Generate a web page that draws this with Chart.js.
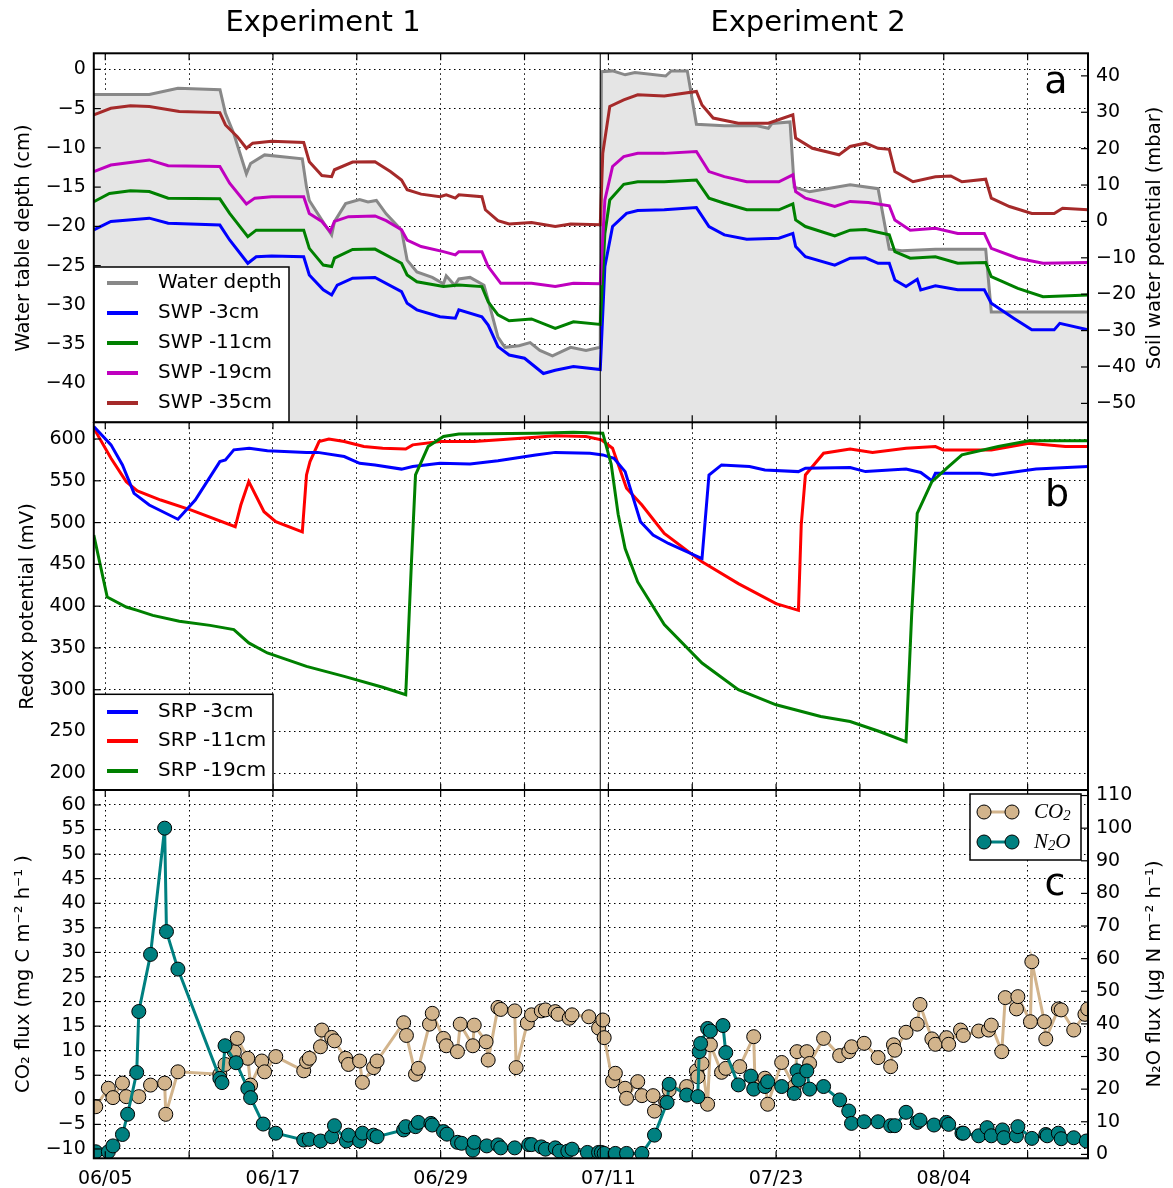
<!DOCTYPE html>
<html>
<head>
<meta charset="utf-8">
<title>Water table, redox and gas fluxes</title>
<script src="https://cdn.jsdelivr.net/npm/chart.js@4.4.0/dist/chart.umd.min.js"></script>
<style>
  html, body { margin: 0; padding: 0; background: #fff; }
  #wrap { position: relative; width: 1173px; height: 1188px; overflow: hidden; }
  #wrap canvas { position: absolute; left: 0; }
</style>
</head>
<body>
<div id="wrap">
  <canvas id="panelA" width="1173" height="423" style="top:0px"></canvas>
  <canvas id="panelB" width="1173" height="369" style="top:422px"></canvas>
  <canvas id="panelC" width="1173" height="418" style="top:770px"></canvas>
</div>
<script>
// x values are days since 06/05

// --- panel a: water table depth (cm, left axis) ---
const waterDays = [-0.82, 3.15, 5.2, 8.21, 8.6, 9.2, 10.1, 10.4, 11.4, 14.1, 14.4, 14.6, 15.5, 16.2, 16.4, 17.2, 18.2, 18.8, 19.4, 20.1, 21.2, 21.6, 22.3, 23.4, 24.2, 24.4, 25.0, 25.3, 26.1, 27.1, 27.4, 28.1, 28.6, 29.6, 30.4, 31.1, 32.0, 33.3, 34.4, 35.42, 35.5, 36.3, 37.2, 37.9, 40.1, 40.5, 41.65, 42.3, 44.3, 46.65, 47.45, 47.7, 49.0, 49.3, 50.4, 53.3, 55.3, 56.1, 57.0, 59.4, 63.0, 63.4, 70.32];
const waterDepth = [-3.2, -3.2, -2.4, -2.6, -5.6, -8.2, -13.3, -12.0, -10.9, -11.4, -15.0, -16.7, -19.2, -21.1, -19.4, -17.1, -16.6, -16.9, -16.7, -18.4, -20.5, -24.3, -25.8, -26.5, -27.3, -26.3, -27.5, -26.7, -26.5, -27.5, -29.4, -34.1, -35.4, -35.2, -34.8, -35.8, -36.5, -35.4, -35.8, -35.4, -0.3, -0.2, -0.7, -0.4, -0.85, -0.2, -0.2, -7.0, -7.2, -7.2, -7.5, -6.9, -6.7, -15.0, -15.6, -14.7, -15.2, -22.9, -23.1, -22.9, -22.9, -30.9, -30.9];

// --- panel a: soil water potential (mbar, right axis) ---
const swp3Days = [-0.82, 0.4, 3.15, 4.5, 8.2, 8.9, 10.2, 10.8, 11.9, 14.2, 14.6, 15.6, 16.2, 16.6, 17.7, 19.3, 21.2, 21.6, 22.3, 23.95, 25.05, 25.3, 26.95, 27.4, 28.1, 28.9, 30.0, 31.35, 32.2, 33.5, 35.42, 35.75, 36.3, 37.3, 38.1, 40.0, 42.3, 43.2, 44.3, 45.9, 48.2, 49.2, 49.4, 50.1, 52.2, 53.3, 54.4, 55.3, 56.1, 56.5, 57.3, 58.1, 58.35, 59.4, 61.0, 62.9, 63.4, 65.0, 66.3, 67.9, 68.3, 70.32];
const swp3 = [-2.3, 0.0, 0.9, -0.5, -1.0, -5.1, -11.5, -9.7, -9.5, -9.7, -14.7, -18.8, -20.2, -17.5, -15.6, -15.4, -19.3, -22.5, -24.3, -26.2, -26.6, -24.3, -26.2, -28.5, -34.4, -36.7, -37.6, -41.8, -40.9, -39.9, -40.7, -12.4, -1.4, 2.2, 3.0, 3.2, 3.8, -1.4, -3.7, -4.9, -4.6, -3.3, -6.9, -9.7, -12.0, -10.1, -10.0, -11.5, -11.5, -16.1, -17.9, -15.9, -18.8, -17.7, -18.8, -18.8, -22.5, -26.6, -29.8, -29.8, -28.0, -29.8];

const swp11Days = [-0.82, 0.3, 1.8, 3.15, 4.5, 8.2, 8.9, 10.2, 10.8, 11.9, 14.2, 14.6, 15.6, 16.2, 16.4, 17.7, 19.3, 21.2, 21.6, 22.3, 24.2, 25.3, 26.95, 27.4, 28.1, 28.9, 30.5, 32.2, 33.5, 35.42, 35.75, 36.1, 37.1, 38.1, 40.0, 42.3, 43.2, 44.3, 45.9, 48.2, 49.2, 49.4, 50.1, 52.2, 53.3, 54.4, 56.1, 56.5, 57.6, 59.4, 61.0, 63.0, 63.4, 65.3, 67.1, 70.32];
const swp11 = [5.4, 7.7, 8.4, 8.2, 6.4, 6.2, 2.2, -4.2, -2.4, -2.4, -2.4, -7.4, -12.0, -12.4, -10.1, -7.7, -7.6, -11.5, -14.7, -16.6, -17.9, -17.5, -17.9, -22.1, -25.7, -27.3, -26.8, -29.4, -27.6, -28.3, -3.3, 5.9, 10.2, 10.9, 10.9, 11.4, 6.4, 5.0, 3.2, 3.2, 4.8, 0.4, -1.4, -4.0, -2.4, -2.2, -3.7, -8.3, -10.1, -9.7, -11.5, -11.3, -15.2, -18.4, -20.7, -20.2];

const swp19Days = [-0.82, 0.4, 3.15, 4.5, 8.2, 8.9, 10.1, 10.7, 11.9, 14.2, 14.6, 15.5, 16.1, 16.4, 17.4, 19.3, 20.1, 21.2, 21.6, 22.6, 24.2, 25.05, 25.3, 26.95, 27.4, 28.3, 30.5, 32.2, 33.5, 35.42, 35.75, 36.3, 37.1, 38.1, 40.0, 42.3, 43.2, 44.3, 45.9, 48.2, 49.2, 49.4, 50.1, 52.2, 53.3, 54.6, 56.1, 56.5, 57.6, 59.4, 61.0, 62.9, 63.4, 65.3, 67.1, 70.32];
const swp19 = [13.7, 15.5, 16.9, 15.3, 15.1, 10.5, 4.8, 6.4, 6.8, 6.8, 2.2, 0.0, -2.8, 0.0, 1.3, 1.5, 0.2, -2.3, -5.1, -6.9, -8.3, -9.2, -8.3, -8.3, -12.4, -17.0, -17.0, -17.9, -17.0, -17.1, 5.9, 15.1, 17.8, 18.7, 18.7, 19.2, 13.7, 12.3, 10.9, 10.9, 12.8, 8.2, 6.4, 4.1, 5.5, 5.2, 4.3, 0.4, -2.4, -1.9, -3.3, -3.3, -7.4, -10.1, -11.5, -11.3];

const swp35Days = [-0.82, 0.4, 1.8, 3.15, 5.3, 8.2, 8.6, 9.45, 10.1, 10.55, 11.9, 14.2, 14.6, 15.5, 16.2, 16.4, 17.7, 19.3, 20.4, 21.2, 21.6, 22.6, 23.95, 24.4, 25.05, 25.3, 26.95, 27.2, 28.1, 28.9, 30.5, 32.2, 33.3, 35.42, 35.6, 36.1, 37.1, 38.1, 40.0, 42.3, 42.7, 43.5, 45.3, 47.45, 49.2, 49.4, 50.6, 52.5, 53.3, 54.4, 55.3, 56.1, 56.5, 57.8, 59.4, 60.5, 61.3, 63.0, 63.4, 64.7, 66.3, 67.9, 68.5, 70.32];
const swp35 = [29.3, 31.1, 31.8, 31.6, 30.2, 29.9, 26.5, 23.3, 20.1, 21.5, 22.0, 21.7, 16.4, 12.6, 12.3, 14.2, 16.3, 16.4, 13.7, 11.4, 8.7, 7.5, 6.8, 7.3, 6.4, 7.3, 6.8, 3.2, 0.2, -0.7, -0.3, -1.4, -0.7, -0.9, 18.7, 31.6, 33.4, 34.8, 34.5, 35.7, 32.0, 28.4, 27.0, 27.0, 29.3, 22.9, 20.1, 18.3, 20.6, 21.5, 20.1, 19.8, 13.7, 10.9, 12.3, 12.5, 10.9, 11.6, 6.4, 4.1, 2.2, 2.2, 3.6, 3.2];

// --- panel b: soil redox potential (mV) ---
const srp3Days = [-0.82, 0.41, 1.23, 2.06, 3.15, 5.2, 6.44, 8.2, 8.6, 9.2, 10.3, 11.6, 14.4, 15.2, 17.1, 18.2, 19.3, 21.2, 22.0, 23.95, 26.1, 28.1, 30.8, 32.2, 34.68, 35.6, 36.4, 37.2, 38.3, 39.2, 40.3, 42.7, 43.2, 44.1, 46.1, 47.2, 49.6, 50.1, 53.3, 54.4, 57.3, 58.35, 59.15, 59.4, 62.6, 63.5, 66.6, 70.32];
const srp3 = [615, 593, 569, 535, 521, 504, 527, 573, 575, 587, 589, 586, 584, 584, 579, 571, 569, 564, 567, 571, 570, 574, 581, 584, 583, 581, 577, 561, 501, 485, 475, 457, 557, 569, 567, 563, 561, 565, 566, 561, 564, 560, 550, 559, 559, 557, 564, 567];

const srp11Days = [-0.82, 0.41, 1.5, 2.3, 3.97, 6.16, 9.3, 9.7, 10.27, 11.36, 12.2, 14.1, 14.4, 14.65, 15.3, 16.0, 17.1, 18.5, 19.85, 21.5, 22.0, 23.95, 26.4, 30.8, 32.2, 34.4, 35.5, 36.3, 37.3, 38.4, 40.0, 42.7, 45.3, 48.0, 49.6, 49.8, 50.1, 51.4, 53.3, 54.9, 57.3, 59.4, 59.95, 63.4, 66.1, 68.7, 70.32];
const srp11 = [613, 577, 549, 538, 527, 515, 495, 521, 549, 513, 501, 489, 557, 573, 597, 600, 597, 591, 589, 588, 593, 597, 597, 602, 604, 603, 599, 589, 541, 521, 487, 453, 427, 403, 395, 497, 557, 583, 588, 584, 589, 591, 587, 587, 595, 591, 591];

const srp19Days = [-0.82, 0.14, 1.5, 2.3, 3.4, 5.3, 7.5, 9.2, 10.27, 11.6, 14.4, 17.1, 19.85, 21.5, 21.9, 22.2, 23.1, 24.2, 25.3, 30.8, 33.5, 35.6, 36.2, 36.7, 37.2, 38.1, 40.0, 42.7, 45.3, 48.0, 51.2, 53.3, 55.4, 57.3, 57.7, 58.1, 59.15, 60.2, 61.3, 63.9, 66.1, 70.32];
const srp19 = [485, 411, 399, 395, 389, 382, 377, 372, 356, 344, 328, 316, 303, 294, 449, 557, 591, 603, 606, 607, 608, 607, 570, 510, 469, 429, 378, 332, 300, 282, 268, 262, 250, 238, 389, 511, 549, 565, 581, 591, 598, 598];

// --- panel c: CO2 flux (mg C m-2 h-1, left) and N2O flux (ug N m-2 h-1, right) ---
const co2Days = [-0.68, 0.22, 0.55, 1.23, 1.5, 2.4, 3.24, 4.25, 4.33, 5.2, 8.2, 8.57, 9.23, 9.45, 10.2, 10.4, 11.2, 11.4, 12.2, 14.2, 14.4, 14.6, 15.4, 15.5, 16.2, 16.4, 17.2, 17.4, 18.2, 18.4, 19.2, 19.45, 21.35, 21.55, 22.2, 22.4, 23.2, 23.4, 24.2, 24.4, 25.2, 25.4, 26.3, 26.4, 27.25, 27.4, 28.1, 28.3, 29.3, 29.4, 30.2, 30.5, 31.2, 31.5, 32.2, 32.4, 33.2, 33.4, 34.6, 35.3, 35.6, 35.7, 36.3, 36.5, 37.2, 37.3, 38.1, 38.4, 39.2, 39.3, 40.1, 40.35, 41.6, 42.3, 42.4, 42.7, 43.1, 43.3, 44.1, 44.4, 45.4, 46.4, 46.5, 47.2, 47.4, 48.4, 49.3, 49.5, 50.2, 50.4, 51.4, 52.55, 53.2, 53.4, 54.3, 55.3, 56.2, 56.4, 56.5, 57.3, 58.1, 58.3, 59.15, 59.4, 60.2, 60.35, 61.2, 61.4, 62.5, 63.2, 63.4, 64.15, 64.4, 65.2, 65.3, 66.2, 66.3, 67.2, 67.3, 68.2, 68.4, 69.3, 70.1, 70.3];
const co2Flux = [-1.4, 2.35, 0.45, 3.4, 0.65, 0.65, 3.0, 3.4, -2.95, 5.7, 5.2, 7.2, 9.8, 12.5, 8.45, 3.0, 7.9, 5.7, 8.8, 5.9, 7.8, 8.45, 10.8, 14.2, 12.7, 12.0, 8.45, 7.2, 7.9, 3.55, 6.55, 7.9, 15.7, 13.1, 5.2, 6.4, 15.4, 17.6, 12.5, 11.0, 9.8, 15.4, 11.0, 15.2, 11.8, 8.1, 18.8, 18.4, 18.1, 6.55, 15.6, 17.3, 18.1, 18.3, 17.95, 17.4, 16.6, 17.3, 16.9, 14.6, 16.25, 12.65, 3.85, 5.4, 2.35, 0.3, 3.7, 0.85, 0.85, -2.3, -0.4, 2.0, 2.7, 5.9, 4.7, 7.4, -0.9, 11.2, 5.6, 6.4, 6.75, 12.85, 2.7, 4.4, -0.9, 7.6, 2.7, 9.8, 9.8, 7.4, 12.5, 9.0, 9.8, 10.8, 11.5, 8.6, 6.75, 11.2, 10.1, 13.75, 15.4, 19.4, 12.4, 11.3, 12.65, 11.3, 14.2, 13.1, 14.0, 14.2, 15.2, 9.8, 20.8, 18.5, 21.0, 15.9, 28.1, 15.9, 12.4, 18.5, 18.3, 14.2, 17.4, 18.5];

const n2oDays = [-0.68, 0.22, 0.55, 1.23, 1.6, 2.25, 2.4, 3.24, 4.25, 4.38, 5.2, 8.2, 8.35, 8.57, 9.36, 10.2, 10.4, 11.3, 12.2, 14.2, 14.6, 15.4, 16.2, 16.4, 17.25, 17.4, 18.2, 18.4, 19.2, 19.45, 21.35, 21.5, 22.2, 22.4, 23.3, 23.4, 24.2, 24.45, 25.2, 25.5, 26.3, 26.4, 27.3, 28.1, 28.3, 29.3, 30.3, 30.5, 31.2, 31.5, 32.2, 32.5, 33.1, 33.4, 34.5, 35.3, 35.5, 35.7, 36.5, 37.3, 38.4, 39.3, 40.2, 40.35, 41.6, 42.4, 42.5, 42.6, 43.1, 43.3, 44.2, 44.4, 45.3, 46.2, 46.4, 47.2, 47.4, 48.4, 49.3, 49.5, 49.6, 50.2, 50.4, 51.4, 52.55, 53.2, 53.4, 54.3, 55.3, 56.2, 56.5, 57.3, 58.1, 58.3, 59.3, 60.2, 60.35, 61.3, 61.4, 62.5, 63.1, 63.4, 64.2, 64.3, 65.2, 65.3, 66.3, 67.3, 67.4, 68.2, 68.4, 69.3, 70.2];
const n2oFlux = [0.8, 0.8, 2.6, 6.1, 12.3, 25.1, 43.8, 61.3, 100.0, 68.3, 56.8, 23.3, 22.0, 33.3, 28.1, 20.2, 17.4, 9.3, 6.5, 4.4, 4.6, 4.1, 5.4, 8.8, 4.1, 5.9, 4.1, 6.5, 5.9, 5.4, 7.5, 8.5, 8.5, 9.8, 9.5, 9.0, 7.0, 6.2, 3.7, 3.4, 1.3, 3.7, 2.6, 2.9, 2.0, 2.0, 3.0, 3.0, 2.3, 1.6, 2.0, 1.0, 1.0, 1.6, 0.6, 0.6, 0.6, 0.3, 0.3, 0.3, 0.3, 5.9, 15.9, 21.5, 18.2, 17.7, 31.5, 34.0, 38.6, 37.8, 39.5, 31.2, 21.3, 24.0, 20.0, 20.8, 22.3, 20.8, 18.7, 25.6, 22.8, 25.6, 20.0, 20.8, 16.7, 13.3, 9.5, 10.0, 10.0, 8.8, 8.8, 12.9, 9.8, 10.5, 9.0, 9.8, 9.2, 6.5, 6.5, 5.7, 8.2, 5.7, 7.5, 5.1, 5.7, 8.5, 4.9, 6.1, 5.7, 6.5, 4.8, 5.1, 4.1];

// axis ranges and ticks
const X_MIN = -0.82, X_MAX = 70.32, SPLIT_DAY = 35.42;
const depthRange = [-44.95, 2.04], swpRange = [-55.2, 46.2];
const redoxRange = [179.2, 620];
const co2Range = [-11.9, 63.05], n2oRange = [-1.2, 111.7];

const FONT = "'DejaVu Sans', sans-serif";
const LEFT_W = 93.8, RIGHT_W = 85;

function pairs(days, vals) {
  return days.map((d, i) => ({ x: d, y: vals[i] }));
}

function dayLabel(v) {
  const d = new Date(2015, 5, 5 + v);
  return String(d.getMonth() + 1).padStart(2, '0') + '/' + String(d.getDate()).padStart(2, '0');
}

function minus(v) {
  return String(v).replace('-', '\u2212');
}

// axis boxes get fixed sizes so the three plot areas line up exactly
function xAxis(showLabels, h) {
  return {
    type: 'linear', min: X_MIN, max: X_MAX,
    afterFit: s => { s.height = h; s.paddingLeft = 0; s.paddingRight = 0; },
    border: { display: false, dash: [1.5, 3.5] },
    grid: { color: '#000', lineWidth: 1, drawTicks: false },
    ticks: {
      display: showLabels, stepSize: 6, includeBounds: false, autoSkip: false, maxRotation: 0,
      padding: 9, color: '#000', font: { family: FONT, size: 19 },
      callback: v => (v % 12 === 0 ? dayLabel(v) : '')
    }
  };
}

function yAxis(pos, range, step, onChart, w) {
  return {
    type: 'linear', position: pos, min: range[0], max: range[1],
    afterFit: s => { s.width = w; s.paddingTop = 0; s.paddingBottom = 0; },
    border: { display: false, dash: [1.5, 3.5] },
    grid: { drawOnChartArea: onChart, drawTicks: false, color: '#000', lineWidth: 1 },
    ticks: {
      stepSize: step, includeBounds: false, padding: 8, color: '#000',
      font: { family: FONT, size: 19 }, callback: v => minus(v)
    }
  };
}

function line(label, days, vals, color, axis, extra) {
  return Object.assign({
    label, data: pairs(days, vals), yAxisID: axis,
    borderColor: color, borderWidth: 3, pointRadius: 0, fill: false, tension: 0
  }, extra || {});
}

function drawSub(ctx, parts, x, y, size, family, style) {
  // parts: [text, isSubscript]
  let cx = x;
  parts.forEach(([t, sub]) => {
    const fs = sub ? size * 0.7 : size;
    ctx.font = `${style} ${fs}px ${family}`;
    ctx.fillText(t, cx, sub ? y + size * 0.22 : y);
    cx += ctx.measureText(t).width;
  });
}

// frame, inward ticks, split line, labels and legend
const decor = {
  id: 'decor',
  afterDraw(chart, args, opts) {
    const ctx = chart.ctx, a = chart.chartArea;
    ctx.save();
    ctx.strokeStyle = '#000';
    ctx.fillStyle = '#000';

    const xs = chart.scales.x.getPixelForValue(SPLIT_DAY);
    ctx.lineWidth = 1;
    ctx.beginPath();
    ctx.moveTo(xs, a.top); ctx.lineTo(xs, a.bottom);
    ctx.stroke();

    ctx.lineWidth = 1.2;
    Object.values(chart.scales).forEach(s => {
      s.ticks.forEach(t => {
        const p = s.getPixelForValue(t.value);
        ctx.beginPath();
        if (s.axis === 'x') {
          ctx.moveTo(p, a.bottom); ctx.lineTo(p, a.bottom - 7);
          ctx.moveTo(p, a.top); ctx.lineTo(p, a.top + 7);
        } else if (s.position === 'left') {
          ctx.moveTo(a.left, p); ctx.lineTo(a.left + 7, p);
        } else {
          ctx.moveTo(a.right, p); ctx.lineTo(a.right - 7, p);
        }
        ctx.stroke();
      });
    });

    (opts.texts || []).forEach(t => {
      ctx.save();
      ctx.translate(t.x, t.y);
      if (t.rot) ctx.rotate(t.rot);
      ctx.font = `${t.size}px ${FONT}`;
      ctx.textAlign = t.align || 'center';
      ctx.textBaseline = t.base || 'middle';
      ctx.fillText(t.text, 0, 0);
      ctx.restore();
    });

    const lg = opts.legend;
    if (lg) {
      ctx.fillStyle = '#fff';
      ctx.fillRect(lg.box[0], lg.box[1], lg.box[2], lg.box[3]);
      ctx.lineWidth = 1.5;
      ctx.strokeStyle = '#000';
      ctx.strokeRect(lg.box[0], lg.box[1], lg.box[2], lg.box[3]);
      lg.items.forEach((it, i) => {
        const y = lg.rows[i];
        ctx.strokeStyle = it.color;
        ctx.lineWidth = lg.markers ? 3 : 4;
        ctx.beginPath();
        ctx.moveTo(lg.sample[0], y); ctx.lineTo(lg.sample[1], y);
        ctx.stroke();
        if (lg.markers) {
          [lg.sample[0], lg.sample[1]].forEach(mx => {
            ctx.beginPath();
            ctx.arc(mx, y, 7, 0, Math.PI * 2);
            ctx.fillStyle = it.color; ctx.fill();
            ctx.lineWidth = 1; ctx.strokeStyle = '#000'; ctx.stroke();
          });
        }
        ctx.fillStyle = '#000';
        ctx.textBaseline = 'middle';
        ctx.textAlign = 'left';
        if (it.parts) {
          drawSub(ctx, it.parts, lg.textX, y, 21, "'Liberation Serif', 'DejaVu Serif', serif", 'italic');
        } else {
          ctx.font = `20px ${FONT}`;
          ctx.fillText(it.label, lg.textX, y);
        }
      });
    }

    ctx.lineWidth = 2;
    ctx.strokeStyle = '#000';
    ctx.strokeRect(a.left, a.top, a.right - a.left, a.bottom - a.top);
    ctx.restore();
  }
};

const common = {
  responsive: false, animation: false, events: [],
  plugins: { legend: { display: false }, tooltip: { enabled: false } }
};
const ROT = -Math.PI / 2;

// panel a
new Chart(document.getElementById('panelA'), {
  type: 'line',
  data: {
    datasets: [
      line('Water depth', waterDays, waterDepth, '#888888', 'yl', { fill: 'start', backgroundColor: '#e5e5e5', order: 10 }),
      line('SWP -3cm', swp3Days, swp3, '#0000ff', 'yr', { order: 4 }),
      line('SWP -11cm', swp11Days, swp11, '#008000', 'yr', { order: 3 }),
      line('SWP -19cm', swp19Days, swp19, '#bf00bf', 'yr', { order: 2 }),
      line('SWP -35cm', swp35Days, swp35, '#a52a2a', 'yr', { order: 1 })
    ]
  },
  options: Object.assign({}, common, {
    layout: { autoPadding: false, padding: { top: 53.3, bottom: 0.7, left: 0, right: 0 } },
    scales: {
      x: xAxis(false, 0),
      yl: yAxis('left', depthRange, 5, true, LEFT_W),
      yr: yAxis('right', swpRange, 10, false, RIGHT_W)
    },
    plugins: Object.assign({}, common.plugins, {
      decor: {
        texts: [
          { text: 'Experiment 1', x: 323, y: 31, size: 29, base: 'alphabetic' },
          { text: 'Experiment 2', x: 808, y: 31, size: 29, base: 'alphabetic' },
          { text: 'a', x: 1056, y: 93, size: 38, base: 'alphabetic' },
          { text: 'Water table depth (cm)', x: 24, y: 238, size: 19.5, rot: ROT },
          { text: 'Soil water potential (mbar)', x: 1155, y: 238, size: 19.5, rot: ROT }
        ],
        legend: {
          box: [93.8, 267, 195.2, 155.3],
          rows: [283, 313, 343, 373, 403],
          sample: [107, 138], textX: 158,
          items: [
            { label: 'Water depth', color: '#888888' },
            { label: 'SWP -3cm', color: '#0000ff' },
            { label: 'SWP -11cm', color: '#008000' },
            { label: 'SWP -19cm', color: '#bf00bf' },
            { label: 'SWP -35cm', color: '#a52a2a' }
          ]
        }
      }
    })
  }),
  plugins: [decor]
});

// panel b
const B_TOP = 422;
new Chart(document.getElementById('panelB'), {
  type: 'line',
  data: {
    datasets: [
      line('SRP -3cm', srp3Days, srp3, '#0000ff', 'y', { order: 1 }),
      line('SRP -11cm', srp11Days, srp11, '#ff0000', 'y', { order: 2 }),
      line('SRP -19cm', srp19Days, srp19, '#008000', 'y', { order: 0 })
    ]
  },
  options: Object.assign({}, common, {
    layout: { autoPadding: false, padding: { top: 0.3, bottom: 0.3, left: 0, right: RIGHT_W } },
    scales: {
      x: xAxis(false, 0),
      y: yAxis('left', redoxRange, 50, true, LEFT_W)
    },
    plugins: Object.assign({}, common.plugins, {
      decor: {
        texts: [
          { text: 'b', x: 1057, y: 506 - B_TOP, size: 38, base: 'alphabetic' },
          { text: 'Redox potential (mV)', x: 28, y: 606.5 - B_TOP, size: 19.5, rot: ROT }
        ],
        legend: {
          box: [93.8, 694.3 - B_TOP, 179.2, 96.4],
          rows: [712 - B_TOP, 741 - B_TOP, 771 - B_TOP],
          sample: [107, 138], textX: 158,
          items: [
            { label: 'SRP -3cm', color: '#0000ff' },
            { label: 'SRP -11cm', color: '#ff0000' },
            { label: 'SRP -19cm', color: '#008000' }
          ]
        }
      }
    })
  }),
  plugins: [decor]
});

// panel c (canvas starts 20px above the plot so the top tick label is not cut)
const C_TOP = 770;
const TAN = '#d2b48c', TEAL = '#008080';
const marks = color => ({
  borderColor: color, borderWidth: 3, pointRadius: 7, pointBackgroundColor: color,
  pointBorderColor: '#000', pointBorderWidth: 1
});
new Chart(document.getElementById('panelC'), {
  type: 'line',
  data: {
    datasets: [
      line('CO2', co2Days, co2Flux, TAN, 'yl', Object.assign(marks(TAN), { order: 1 })),
      line('N2O', n2oDays, n2oFlux, TEAL, 'yr', Object.assign(marks(TEAL), { order: 0 }))
    ]
  },
  options: Object.assign({}, common, {
    layout: { autoPadding: false, padding: { top: 20, bottom: 0, left: 0, right: 0 } },
    scales: {
      x: xAxis(true, 29.7),
      yl: yAxis('left', co2Range, 5, true, LEFT_W),
      yr: yAxis('right', n2oRange, 10, false, RIGHT_W)
    },
    plugins: Object.assign({}, common.plugins, {
      decor: {
        texts: [
          { text: 'c', x: 1055, y: 895 - C_TOP, size: 38, base: 'alphabetic' },
          { text: 'CO\u2082 flux (mg C m\u207b\u00b2 h\u207b\u00b9 )', x: 24, y: 974 - C_TOP, size: 19.5, rot: ROT },
          { text: 'N\u2082O flux (\u03bcg N m\u207b\u00b2 h\u207b\u00b9)', x: 1155, y: 974 - C_TOP, size: 19.5, rot: ROT }
        ],
        legend: {
          markers: true,
          box: [970, 794 - C_TOP, 111, 66],
          rows: [812 - C_TOP, 842 - C_TOP],
          sample: [984, 1012], textX: 1034,
          items: [
            { color: TAN, parts: [['CO', false], ['2', true]] },
            { color: TEAL, parts: [['N', false], ['2', true], ['O', false]] }
          ]
        }
      }
    })
  }),
  plugins: [decor]
});
</script>
</body>
</html>
